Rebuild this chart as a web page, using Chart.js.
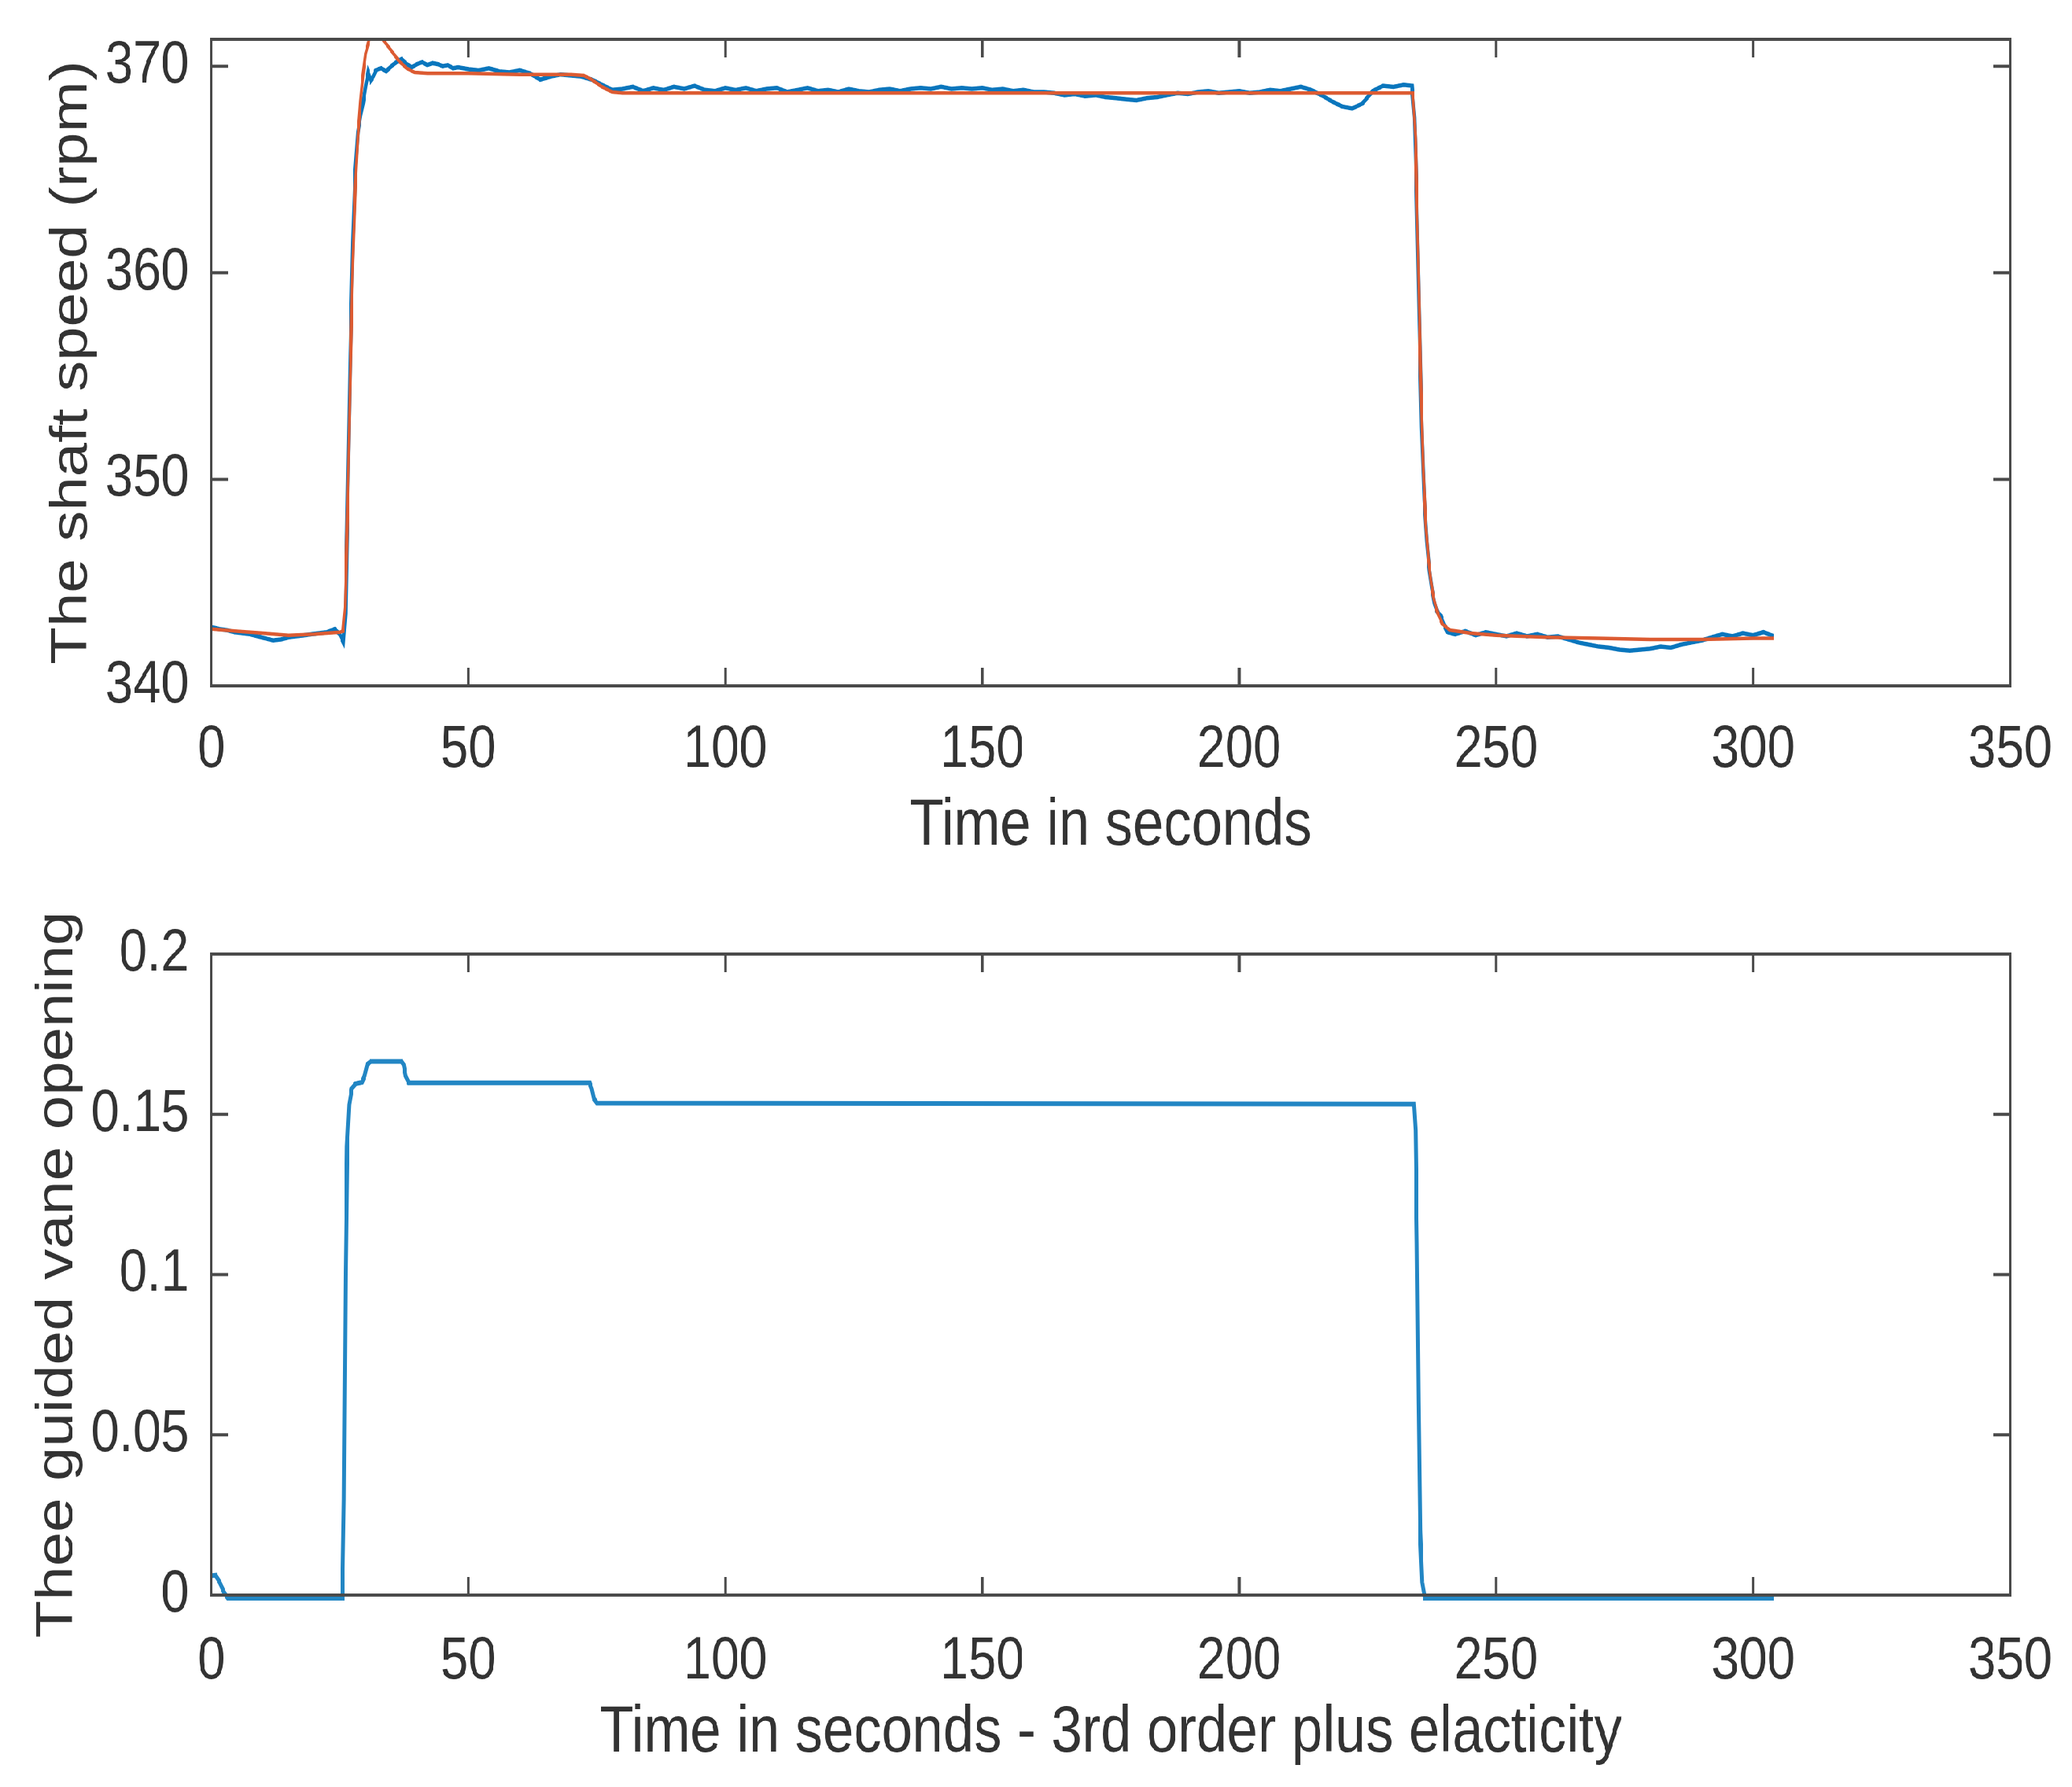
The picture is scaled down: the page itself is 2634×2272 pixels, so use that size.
<!DOCTYPE html>
<html>
<head>
<meta charset="utf-8">
<script src="https://cdn.jsdelivr.net/npm/chart.js@4.4.1/dist/chart.umd.min.js"></script>
<style>
  html, body { margin: 0; padding: 0; background: #ffffff; overflow: hidden; }
  #wrap { position: absolute; left: 0; top: 0; width: 3136px; height: 2272px;
          transform: scaleX(0.84); transform-origin: 0 0; }
  canvas { position: absolute; left: 0; }
</style>
</head>
<body>
<div id="wrap">
  <canvas id="c1" width="3136" height="1136" style="top:0px"></canvas>
  <canvas id="c2" width="3136" height="1136" style="top:1136px"></canvas>
</div>
<script>
// ---------------- DATA ----------------
const xTicks = [0, 50, 100, 150, 200, 250, 300, 350];
const xTickLabels = ['0', '50', '100', '150', '200', '250', '300', '350'];

const speedTicks = [340, 350, 360, 370];
const speedTickLabels = ['340', '350', '360', '370'];

const vaneTicks = [0, 0.05, 0.1, 0.15, 0.2];
const vaneTickLabels = ['0', '0.05', '0.1', '0.15', '0.2'];

// measured shaft speed (blue)
const speedMeasT = [0,1.5,3,4.5,6,7.5,9,10.5,12,13.5,15,16.5,18,19.5,21,22.5,24,25,25.7,26.1,26.5,27,27.5,28,28.5,29,29.5,30,30.5,31,31.5,32,33,34,35,36,37,38,39,40,41,42,43,44,45,46,47,48,50,52,54,56,58,60,62,64,66,68,70,72,74,76,78,80,82,84,86,88,90,92,94,96,98,100,102,104,106,108,110,112,114,116,118,120,122,124,126,128,130,132,134,136,138,140,142,144,146,148,150,152,154,156,158,160,162,164,166,168,170,172,174,176,178,180,182,184,186,188,190,192,194,196,198,200,202,204,206,208,210,212,214,216,218,220,222,224,226,228,230,232,233.6,234.1,234.5,235,235.5,236,236.5,237,237.5,238,238.5,239.2,239.8,240.5,242,244,246,248,250,252,254,256,258,260,262,264,266,268,270,272,274,276,278,280,282,284,286,288,290,292,294,296,298,300,302,304];
const speedMeas = [342.85,342.75,342.7,342.6,342.55,342.5,342.4,342.3,342.2,342.25,342.35,342.4,342.45,342.5,342.55,342.6,342.75,342.5,342.1,343.5,349,356,361.5,365,366.8,367.6,368.2,369.0,369.7,369.3,369.5,369.8,369.9,369.75,370.0,370.2,370.35,370.1,369.95,370.1,370.2,370.05,370.15,370.1,370.0,370.05,369.9,369.95,369.85,369.8,369.9,369.75,369.7,369.8,369.65,369.35,369.5,369.6,369.55,369.5,369.35,369.1,
  368.85,368.9,369.0,368.8,368.95,368.85,369.0,368.9,369.05,368.85,368.8,368.95,368.85,368.95,368.8,368.9,368.95,368.75,368.85,368.95,368.8,368.85,368.75,368.9,368.8,368.75,368.85,368.9,368.8,368.9,368.95,368.9,369.0,368.9,368.95,368.9,368.95,368.85,368.9,368.8,368.85,368.75,
  368.75,368.7,368.6,368.65,368.55,368.6,368.5,368.45,368.4,368.35,368.45,368.5,368.6,368.7,368.65,368.75,368.8,368.7,368.75,368.8,368.7,368.75,368.85,368.8,368.9,369.0,368.85,368.6,368.3,368.05,367.95,368.2,368.8,369.05,369.0,369.1,369.05,367.5,364,358,352.5,349,347,345.6,344.7,344.0,343.6,343.4,343.0,342.6,342.5,342.65,342.45,342.6,342.5,342.4,342.55,342.4,342.5,342.35,342.4,342.25,342.1,342.0,341.9,341.85,341.75,341.7,341.75,341.8,341.9,341.85,342.0,342.1,342.2,342.35,342.5,342.4,342.55,342.45,342.6,342.4];

// model shaft speed (red)
const speedModelT = [0,5,10,15,20,25,25.6,26,26.5,27,27.5,28,28.5,29,29.5,30,30.7,31.5,32.5,33.5,35,36.5,38,39.5,42,50,60,70,72.5,74,76,78,80,100,150,200,233.8,234.3,234.8,235.3,235.8,236.3,236.8,237.3,237.8,238.5,239.5,241,245,250,260,270,280,290,300,304];
const speedModel = [342.75,342.65,342.55,342.45,342.5,342.6,342.65,343.8,348.5,355,360.5,364.2,366.6,368.3,369.6,370.6,371.3,371.7,371.6,371.25,370.75,370.25,369.9,369.7,369.65,369.65,369.6,369.6,369.55,369.35,369.0,368.75,368.7,368.7,368.7,368.7,368.7,366.5,361,355,350.5,347.8,346.2,345.1,344.3,343.6,343.0,342.7,342.55,342.45,342.35,342.3,342.25,342.25,342.3,342.3];

// guided vane opening
const vaneT = [0,0.8,1.6,2.4,3.2,25.5,25.8,26.1,26.4,26.8,27.3,28,29.3,29.8,30.3,31,37,37.4,37.8,38.4,73.6,74,74.4,75,234,234.3,234.6,234.9,235.2,235.6,236.1,304];
const vane = [0.006,0.0062,0.004,0.001,-0.001,-0.001,0.03,0.1,0.14,0.153,0.158,0.1595,0.16,0.162,0.1655,0.1665,0.1665,0.1655,0.162,0.1598,0.1598,0.158,0.155,0.1535,0.1532,0.145,0.11,0.06,0.02,0.004,-0.001,-0.001];

// ---------------- STYLE ----------------
const FONT = "'Liberation Sans', Arial, Helvetica, sans-serif";
const TEXT_COLOR = '#333333';
const AXIS_COLOR = '#4a4a4a';
const BLUE = '#0a76bd';
const BLUE2 = '#2286c4';
const RED = '#dc5b32';

const zip = (xs, ys) => xs.map((x, i) => ({ x: x, y: ys[i] }));

const boxPlugin = {
  id: 'matlabBox',
  afterDraw(chart) {
    const { ctx, chartArea: a } = chart;
    const xs = chart.scales.x, ys = chart.scales.y;
    ctx.save();
    ctx.strokeStyle = AXIS_COLOR;
    ctx.lineWidth = 4;
    ctx.beginPath();
    xs.ticks.forEach(t => {
      const px = xs.getPixelForValue(t.value);
      ctx.moveTo(px, a.bottom); ctx.lineTo(px, a.bottom - 23);
      ctx.moveTo(px, a.top); ctx.lineTo(px, a.top + 23);
    });
    ys.ticks.forEach(t => {
      const py = ys.getPixelForValue(t.value);
      ctx.moveTo(a.left, py); ctx.lineTo(a.left + 25, py);
      ctx.moveTo(a.right, py); ctx.lineTo(a.right - 25, py);
    });
    ctx.stroke();
    ctx.lineWidth = 4;
    ctx.strokeRect(a.left, a.top, a.right - a.left, a.bottom - a.top);
    ctx.restore();
  }
};

function makeOptions(cfg) {
  return {
    responsive: false,
    animation: false,
    devicePixelRatio: 1,
    events: [],
    layout: { padding: { top: cfg.padTop, right: 94, bottom: 0, left: 0 } },
    plugins: { legend: { display: false }, tooltip: { enabled: false } },
    elements: { point: { radius: 0 }, line: { tension: 0 } },
    scales: {
      x: {
        type: 'linear', min: 0, max: 350,
        grid: { display: false, drawTicks: false },
        border: { display: false },
        afterBuildTicks: s => { s.ticks = xTicks.map(v => ({ value: v })); },
        afterFit: s => { s.height = cfg.xAxisH; s.paddingLeft = 0; s.paddingRight = 0; },
        ticks: {
          color: TEXT_COLOR, padding: cfg.xTickPad, maxRotation: 0, autoSkip: false,
          font: { family: FONT, size: 76 },
          callback: (v) => xTickLabels[xTicks.indexOf(v)]
        },
        title: {
          display: true, text: cfg.xTitle, color: TEXT_COLOR,
          font: { family: FONT, size: 84 },
          padding: { top: 0, bottom: cfg.xTitlePad }
        }
      },
      y: {
        type: 'linear', min: cfg.yMin, max: cfg.yMax,
        grid: { display: false, drawTicks: false },
        border: { display: false },
        afterBuildTicks: s => { s.ticks = cfg.yTicks.map(v => ({ value: v })); },
        afterFit: s => { s.width = 320; s.paddingTop = 0; s.paddingBottom = 0; },
        ticks: {
          color: TEXT_COLOR, padding: 34, autoSkip: false,
          font: { family: FONT, size: 76 },
          callback: (v) => cfg.yTickLabels[cfg.yTicks.indexOf(v)]
        },
        title: {
          display: true, text: cfg.yTitle, color: TEXT_COLOR,
          font: { family: FONT, size: 78 },
          padding: { top: cfg.yTitlePad, bottom: 0 }
        }
      }
    }
  };
}

new Chart(document.getElementById('c1'), {
  type: 'line',
  data: {
    datasets: [
      { label: 'Model', data: zip(speedModelT, speedModel), borderColor: RED,
        borderWidth: 4.5, order: 0, fill: false },
      { label: 'Measured', data: zip(speedMeasT, speedMeas), borderColor: BLUE,
        borderWidth: 5.5, order: 1, fill: false }
    ]
  },
  options: makeOptions({
    padTop: 50, xAxisH: 264, xTickPad: 36, xTitle: 'Time in seconds', xTitlePad: 35,
    yMin: 340, yMax: 371.3, yTicks: speedTicks, yTickLabels: speedTickLabels,
    yTitle: 'The shaft speed (rpm)', yTitlePad: 63
  }),
  plugins: [boxPlugin]
});

new Chart(document.getElementById('c2'), {
  type: 'line',
  data: {
    datasets: [
      { label: 'Vane', data: zip(vaneT, vane), borderColor: BLUE2,
        borderWidth: 6, fill: false, clip: 8 }
    ]
  },
  options: makeOptions({
    padTop: 77, xAxisH: 244, xTickPad: 39, xTitle: 'Time in seconds - 3rd order plus elacticity', xTitlePad: 18,
    yMin: 0, yMax: 0.2, yTicks: vaneTicks, yTickLabels: vaneTickLabels,
    yTitle: 'Thee guided vane opening', yTitlePad: 41
  }),
  plugins: [boxPlugin]
});
</script>
</body>
</html>
